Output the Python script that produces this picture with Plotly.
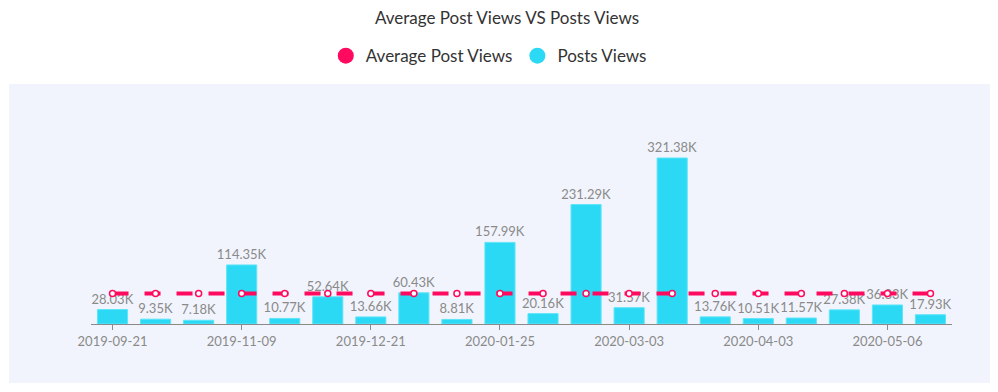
import plotly.graph_objects as go

dates = ["2019-09-21", "2019-10-05", "2019-10-19", "2019-11-09", "2019-11-23",
         "2019-12-07", "2019-12-21", "2020-01-04", "2020-01-14", "2020-01-25",
         "2020-02-08", "2020-02-20", "2020-03-03", "2020-03-13", "2020-03-23",
         "2020-04-03", "2020-04-14", "2020-04-25", "2020-05-06", "2020-05-17"]
posts_views = [28030, 9350, 7180, 114350, 10770, 52640, 13660, 60430, 8810, 157990,
               20160, 231290, 31570, 321380, 13760, 10510, 11570, 27380, 36830, 17930]
avg_views = [59280, 59280, 59280, 59280, 59280, 59280, 59280, 59280, 59280, 59280,
             59280, 59280, 59280, 59280, 59280, 59280, 59280, 59280, 59280, 59280]
tick_dates = ["2019-09-21", "2019-11-09", "2019-12-21", "2020-01-25",
              "2020-03-03", "2020-04-03", "2020-05-06"]
bar_labels = [f"{v/1000:.2f}K" for v in posts_views]

RED = "#FF0A5E"
CYAN = "#2CD9F5"
FONT = "Lato"

fig = go.Figure()
fig.add_trace(go.Bar(
    x=dates, y=posts_views, name="Posts Views", showlegend=False,
    marker=dict(color=CYAN, line=dict(color="#5FE4F8", width=1)),
    text=bar_labels, textposition="outside", cliponaxis=False, constraintext="none",
    textfont=dict(color="#8a8a8a", size=13, family=FONT),
    hoverinfo="x+y",
))
fig.add_trace(go.Scatter(
    x=dates, y=avg_views, name="Average Post Views", showlegend=False,
    mode="lines+markers",
    line=dict(color=RED, width=4, dash="16px,16px"),
    marker=dict(color="white", size=6, line=dict(color=RED, width=1.5)),
))
# legend entries
fig.add_trace(go.Scatter(x=[dates[0]], y=[None], mode="markers", name="Average Post Views",
                         marker=dict(color=RED, size=16, symbol="circle")))
fig.add_trace(go.Scatter(x=[dates[0]], y=[None], mode="markers", name="Posts Views",
                         marker=dict(color=CYAN, size=16, symbol="circle")))

fig.update_layout(
    width=998, height=392, autosize=False,
    margin=dict(l=83, r=54, t=92, b=76, autoexpand=False),
    paper_bgcolor="white", plot_bgcolor="rgba(0,0,0,0)",
    font=dict(family=FONT, color="#333"),
    title=dict(text="Average Post Views VS Posts Views", x=0.5,
               xanchor="center", y=0.975, yanchor="middle",
               font=dict(size=17, color="#333", family=FONT)),
    legend=dict(orientation="h", x=0.462, xanchor="center",
                y=1.196, yanchor="middle", font=dict(size=17, color="#333", family=FONT),
                itemsizing="trace"),
    bargap=0.3,
    showlegend=True,
    shapes=[dict(type="rect", xref="paper", yref="paper", x0=-0.0952, x1=1.0441,
                 y0=-0.2634, y1=1.0714, fillcolor="#F1F4FC", line=dict(width=0),
                 layer="below")],
)
fig.update_xaxes(type="category", tickmode="array", tickvals=tick_dates,
                 ticktext=tick_dates, showgrid=False, showline=True, tickangle=0,
                 range=[-0.5, len(dates) - 0.5],
                 linecolor="#8a8a8a", linewidth=1, ticks="outside", ticklen=5,
                 tickcolor="#8a8a8a", tickfont=dict(size=13, color="#8a8a8a", family=FONT))
fig.update_yaxes(visible=False, range=[0, 433700], showgrid=False)

fig.write_html("out.html")
